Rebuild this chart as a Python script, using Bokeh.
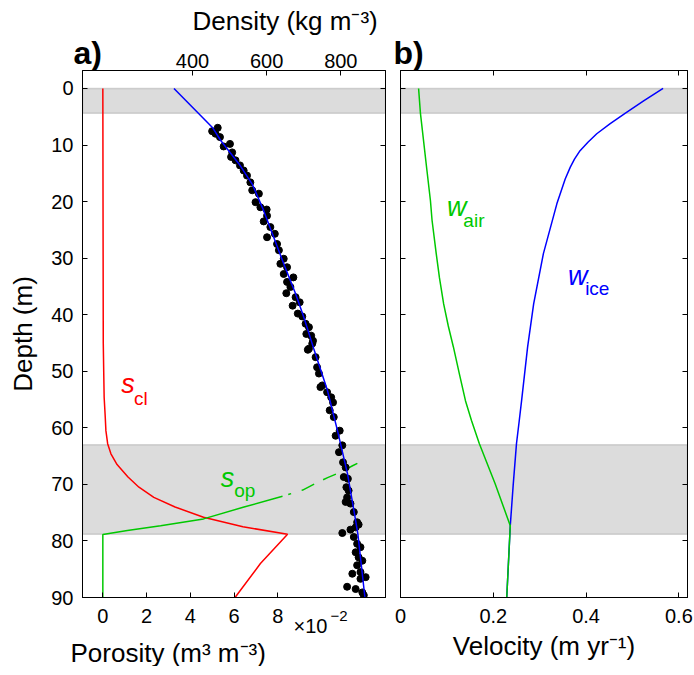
from bokeh.plotting import figure
from bokeh.models import (Range1d, LinearAxis, FixedTicker, BoxAnnotation, Label,
                          CustomJSTickFormatter, CustomLabelingPolicy)
from bokeh.layouts import row, column
from bokeh.embed import file_html
from bokeh.resources import INLINE

FONT = "Liberation Sans"
RED = "#ff0000"
GREEN = "#00c800"
BLUE = "#0000ff"

# ---------------- data ----------------
depth_ticks = [0, 10, 20, 30, 40, 50, 60, 70, 80, 90]
por_ticks = [0, 0.02, 0.04, 0.06, 0.08]
por_tick_labels = ["0", "2", "4", "6", "8"]
dens_ticks = [400, 600, 800]
vel_ticks = [0, 0.2, 0.4, 0.6]
vel_tick_labels = ["0", "0.2", "0.4", "0.6"]

band_top = [0.0, 63.0]
band_bottom = [4.4, 78.8]

# modelled density (blue line)
dens_line_depth = [0, 7, 9.2, 13.3, 16.9, 21.6, 26.3, 31.0, 36.3, 40.4, 46.0, 53.4, 60.5, 68.1, 76.4, 78.8, 90]
dens_line_value = [350, 455, 476, 525, 561, 592, 619, 646, 678, 700, 727, 764, 791, 818, 840, 846, 865]

# measured density (black dots)
obs_depth = [6.95, 7.55, 8.0, 8.6, 9.8, 10.25, 11.3, 12.1, 12.7, 13.6, 14.5, 15.4, 16.6, 18.0, 18.6,
             20.1, 21.0, 21.4, 22.5, 23.5, 24.5, 25.7, 26.3, 27.5, 28.6, 30.1, 31.0, 31.6, 32.8, 33.4,
             34.2, 35.1, 36.2, 36.9, 37.8, 38.4, 39.8, 40.3, 41.6, 42.2, 43.4, 43.7, 44.6, 45.1, 46.0,
             46.2, 47.5, 49.3, 50.4, 52.5, 52.8, 53.7, 54.6, 55.5, 56.9, 58.1, 60.5, 61.4, 63.1, 64.3,
             66.1, 67.0, 68.7, 69.0, 70.5, 71.1, 72.3, 73.1, 73.4, 74.9, 76.7, 77.1, 77.6, 78.0, 78.6,
             79.3, 80.5, 81.1, 82.0, 82.9, 83.5, 84.3, 85.5, 85.8, 86.4, 86.7, 88.1, 88.5, 89.1, 89.6]
obs_density = [468, 453, 462, 474, 501, 484, 507, 504, 516, 528, 538, 547, 556, 561, 579,
               570, 583, 600, 601, 592, 610, 622, 601, 628, 633, 646, 637, 655, 646, 672,
               655, 664, 653, 678, 689, 670, 684, 696, 705, 714, 707, 720, 725, 723, 714,
               711, 732, 736, 741, 750, 745, 763, 774, 779, 770, 781, 797, 786, 804, 795,
               806, 813, 808, 819, 815, 821, 817, 813, 826, 835, 844, 848, 840, 826, 804,
               835, 844, 853, 840, 848, 858, 844, 853, 831, 867, 853, 817, 840, 858, 862]

# closed porosity s_cl (red)
scl_depth = [0, 45, 50, 54.6, 58.1, 60.5, 62.8, 64.6, 66.5, 68.7, 70.5, 72.3, 74.0, 75.8, 77.5, 78.8, 84, 90]
scl_value = [0.0, 0.0002, 0.0004, 0.0006, 0.0011, 0.0014, 0.0022, 0.0037, 0.0065, 0.0115, 0.0165,
             0.0233, 0.033, 0.046, 0.064, 0.0844, 0.072, 0.0604]

# open porosity s_op (green, solid part)
sop_depth = [90, 78.85, 78.15, 77.3, 76.1, 74.0, 72.1]
sop_value = [0.0, 0.0, 0.0112, 0.0264, 0.046, 0.0645, 0.0821]
# open porosity s_op (green, dashed continuation)
sop_dash_depth = [72.1, 71.0, 69.8, 68.8, 67.8, 66.7, 65.65]
sop_dash_value = [0.0821, 0.0913, 0.0973, 0.1027, 0.1088, 0.1141, 0.1195]

# velocities
wice_depth = [0, 2.2, 4.4, 6.2, 8.0, 9.5, 11.0, 12.5, 13.9, 16.0, 20.4, 29.2, 38.1, 45.7, 55.2,
              58.7, 62.8, 70.0, 77.3, 90]
wice_value = [0.566, 0.524, 0.484, 0.452, 0.423, 0.404, 0.387, 0.375, 0.366, 0.355, 0.337, 0.308,
              0.287, 0.274, 0.261, 0.256, 0.250, 0.243, 0.2366, 0.229]
wair_depth = [0, 4.4, 14.5, 19.8, 23.3, 29.2, 33.5, 38.1, 42.0, 45.7, 50.5, 55.2, 58.7, 62.8,
              69.9, 77.3, 90]
wair_value = [0.039, 0.043, 0.057, 0.0645, 0.068, 0.077, 0.084, 0.093, 0.103, 0.114, 0.127,
              0.140, 0.153, 0.170, 0.204, 0.2366, 0.229]

# ---------------- helpers ----------------
def style_axis(ax, ticks, labels=True, overrides=None, standoff=8):
    ax.ticker = FixedTicker(ticks=ticks)
    ax.major_tick_in = 5
    ax.major_tick_out = 0
    ax.minor_tick_line_color = None
    ax.axis_line_color = "black"
    ax.axis_line_width = 1
    ax.major_tick_line_color = "black"
    if labels:
        ax.major_label_text_font = FONT
        ax.major_label_text_font_size = "20px"
        ax.major_label_text_color = "black"
        ax.major_label_standoff = standoff
        if overrides:
            ax.major_label_overrides = overrides
    else:
        ax.formatter = CustomJSTickFormatter(code="return ''")
        ax.major_label_policy = CustomLabelingPolicy(
            code="for (const i of indices) { indices.unset(i) }")
        ax.major_label_text_font_size = "1px"
        ax.major_label_standoff = 0
    return ax


def txt(p, x, y, text, size, color="black", style="normal", range_name="default"):
    lab = Label(x=x, y=y, text=text, text_font=FONT, text_font_size=size, text_color=color,
                text_font_style=style, text_align="left", text_baseline="alphabetic",
                x_range_name=range_name)
    p.add_layout(lab)


def style_fig(p):
    p.grid.visible = False
    p.outline_line_color = "black"
    p.background_fill_color = "white"
    p.border_fill_color = "white"


y_range = Range1d(start=90, end=-3.18)

# ---------------- panel a ----------------
p1 = figure(width=392, height=674, x_range=Range1d(-0.00929, 0.12915), y_range=y_range,
            output_backend="svg", toolbar_location=None, x_axis_location=None,
            y_axis_location=None, min_border_left=82, min_border_right=7,
            min_border_top=70, min_border_bottom=77)
p1.extra_x_ranges = {"dens": Range1d(103.3, 920.5)}
style_fig(p1)

for t, b in zip(band_top, band_bottom):
    p1.add_layout(BoxAnnotation(top=t, bottom=b, fill_color="#dcdcdc", fill_alpha=1,
                                line_color="#808080", line_width=1.5, level="underlay"))

ax = style_axis(LinearAxis(), depth_ticks, standoff=9)
ax.axis_label = "Depth (m)"
ax.axis_label_text_font = FONT
ax.axis_label_text_font_size = "26px"
ax.axis_label_text_font_style = "normal"
ax.axis_label_text_color = "black"
ax.axis_label_standoff = 10
p1.add_layout(ax, "left")
p1.add_layout(style_axis(LinearAxis(), depth_ticks, labels=False), "right")
p1.add_layout(style_axis(LinearAxis(), por_ticks,
                         overrides={v: s for v, s in zip(por_ticks, por_tick_labels)},
                         standoff=11), "below")
p1.add_layout(style_axis(LinearAxis(x_range_name="dens"), dens_ticks, standoff=3), "above")

p1.line(scl_value, scl_depth, line_color=RED, line_width=1.5)
p1.line(sop_value, sop_depth, line_color=GREEN, line_width=1.5)
p1.line(sop_dash_value, sop_dash_depth, line_color=GREEN, line_width=1.5,
        line_dash="0 6 3 11 14 10 14 10 14 10 14 10")
p1.scatter(obs_density, obs_depth, x_range_name="dens", size=7, color="black")
p1.line(dens_line_value, dens_line_depth, x_range_name="dens", line_color=BLUE, line_width=1.5)

txt(p1, 0.0084, 52.3, "s", "27px", RED, "italic")
txt(p1, 0.0142, 54.8, "cl", "19px", RED)
txt(p1, 0.0539, 68.8, "s", "27px", GREEN, "italic")
txt(p1, 0.0600, 71.1, "op", "19px", GREEN)

# ---------------- panel b ----------------
p2 = figure(width=301, height=674, x_range=Range1d(0, 0.6186), y_range=y_range,
            output_backend="svg", toolbar_location=None, x_axis_location=None,
            y_axis_location=None, min_border_left=8, min_border_right=6,
            min_border_top=70, min_border_bottom=77)
style_fig(p2)

for t, b in zip(band_top, band_bottom):
    p2.add_layout(BoxAnnotation(top=t, bottom=b, fill_color="#dcdcdc", fill_alpha=1,
                                line_color="#808080", line_width=1.5, level="underlay"))

p2.add_layout(style_axis(LinearAxis(), depth_ticks, labels=False), "left")
p2.add_layout(style_axis(LinearAxis(), depth_ticks, labels=False), "right")
axb = style_axis(LinearAxis(), vel_ticks,
                 overrides={v: s for v, s in zip(vel_ticks, vel_tick_labels)}, standoff=11)
axb.axis_label = "Velocity (m yr⁻¹)"
axb.axis_label_text_font = FONT
axb.axis_label_text_font_size = "26px"
axb.axis_label_text_font_style = "normal"
axb.axis_label_text_color = "black"
axb.axis_label_standoff = 5
p2.add_layout(axb, "below")
p2.add_layout(style_axis(LinearAxis(), vel_ticks, labels=False), "above")

p2.line(wice_value, wice_depth, line_color=BLUE, line_width=1.5)
p2.line(wair_value, wair_depth, line_color=GREEN, line_width=1.5)

txt(p2, 0.1004, 20.98, "w", "27px", GREEN, "italic")
txt(p2, 0.1355, 23.3, "air", "19px", GREEN)
txt(p2, 0.361, 33.1, "w", "27px", BLUE, "italic")
txt(p2, 0.398, 35.4, "ice", "19px", BLUE)

# ---------------- transparent text layer for texts outside the frames ----------------
ov = figure(width=693, height=674, x_range=Range1d(0, 693), y_range=Range1d(674, 0),
            output_backend="svg", toolbar_location=None, x_axis_location=None,
            y_axis_location=None, min_border=0, margin=(-682, 0, 0, 0))
ov.grid.visible = False
ov.outline_line_color = None
ov.background_fill_alpha = 0
ov.border_fill_alpha = 0

txt(ov, 73, 60, "a)", "32px", "black", "bold")
txt(ov, 393, 60, "b)", "32px", "black", "bold")
txt(ov, 192, 28.5, "Density (kg m⁻³)", "26px")
txt(ov, 70, 660, "Porosity (m³ m⁻³)", "26px")
txt(ov, 293, 633, "×10", "20px")
txt(ov, 330, 623, "−2", "15px")

layout = column(row(p1, p2), ov)
open("out.html", "w").write(file_html(layout, INLINE))
